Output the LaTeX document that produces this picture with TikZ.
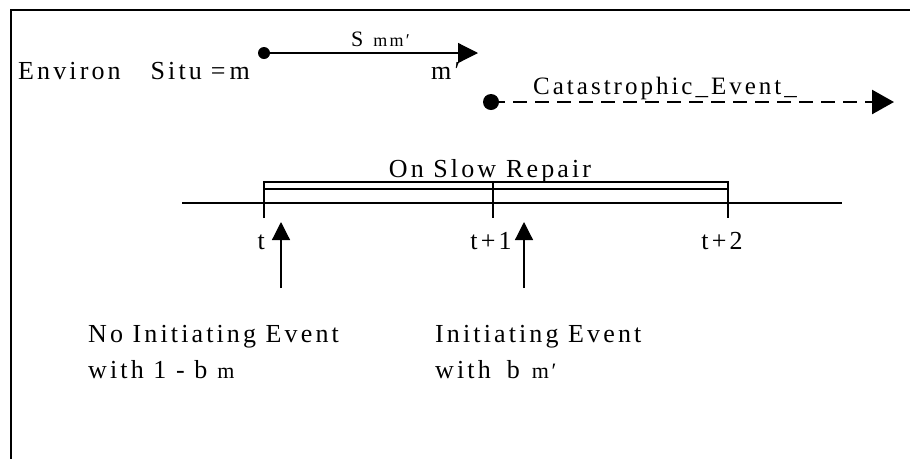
\documentclass[tikz,border=0pt]{standalone}
\usepackage{fontspec}
\setmainfont{Liberation Serif}[LetterSpace=12]
\usetikzlibrary{arrows.meta}
\begin{document}
\begin{tikzpicture}[x=1pt,y=-1pt,
  txt/.style={font=\fontsize{26}{30}\selectfont, inner sep=0pt},
  ln/.style={line width=1.2pt},
  dot/.style={circle, fill=black, inner sep=0pt, minimum size=#1},
  tri/.style={-{Triangle[length=#1,width=#1]}}]
\useasboundingbox (0,0) rectangle (910,459);
% frame
\coordinate (fr) at (910,10);
\coordinate (fc) at (11,10);
\coordinate (fb) at (11,459);
\draw[line width=1.3pt] (fr) -- (fc) -- (fb);
% top line
\node[txt, anchor=base west] (env) at (18,79) {Environ\hspace{30pt}Situ\hspace{9pt}=\hspace{4pt}m};
\node[dot=12pt] (d1) at (264,53) {};
\coordinate (a1) at (478,53);
\draw[ln, tri=20pt] (d1.center) -- (a1);
\node[txt, anchor=base west] (smm) at (351,46) {{\fontsize{22}{24}\selectfont S}\hspace{10pt}{\fontsize{18}{20}\selectfont mm′}};
\node[txt, anchor=base west] (mp) at (431,79) {m′};
% catastrophic
\node[dot=16pt] (d2) at (491,102) {};
\coordinate (a2) at (894,102);
\draw[line width=2.6pt, dash pattern=on 14pt off 8pt, -{Triangle[length=22pt,width=24pt]}] (d2.center) -- (a2);
\node[txt, anchor=base west, font=\fontsize{25}{30}\selectfont] (cat) at (533,94) {Catastrophic\_Event\_};
% repair bracket and timeline
\node[txt, anchor=base] (osr) at (490,177) {On Slow\hspace{10pt}Repair};
\coordinate (t0b) at (264,218);
\coordinate (t0t) at (264,182);
\coordinate (t2t) at (728,182);
\coordinate (t2b) at (728,218);
\coordinate (t1t) at (493,182);
\coordinate (t1b) at (493,218);
\coordinate (r2a) at (264,189);
\coordinate (r2b) at (728,189);
\coordinate (tla) at (182,203);
\coordinate (tlb) at (842,203);
\draw[ln] (tla) -- (tlb);
\draw[ln] (t0b) -- (t0t) -- (t2t) -- (t2b);
\draw[ln] (r2a) -- (r2b);
\draw[ln] (t1t) -- (t1b);
\node[txt, anchor=base east] (lt0) at (265,249) {t};
\node[txt, anchor=base] (lt1) at (491,249) {t+1};
\node[txt, anchor=base] (lt2) at (722,249) {t+2};
% event arrows
\coordinate (u1s) at (281,288);
\coordinate (u1e) at (281,222);
\coordinate (u2s) at (524,288);
\coordinate (u2e) at (524,222);
\draw[ln, tri=18pt] (u1s) -- (u1e);
\draw[ln, tri=18pt] (u2s) -- (u2e);
% bottom texts
\node[txt, anchor=base west] (n1) at (88,342) {No Initiating Event};
\node[txt, anchor=base west] (n2) at (88,378) {with 1 - b\hspace{10pt}{\fontsize{22}{24}\selectfont m}};
\node[txt, anchor=base west] (i1) at (435,342) {Initiating Event};
\node[txt, anchor=base west] (i2) at (435,378) {with\hspace{16pt}b\hspace{12pt}{\fontsize{22}{24}\selectfont m′}};
\end{tikzpicture}
\end{document}
